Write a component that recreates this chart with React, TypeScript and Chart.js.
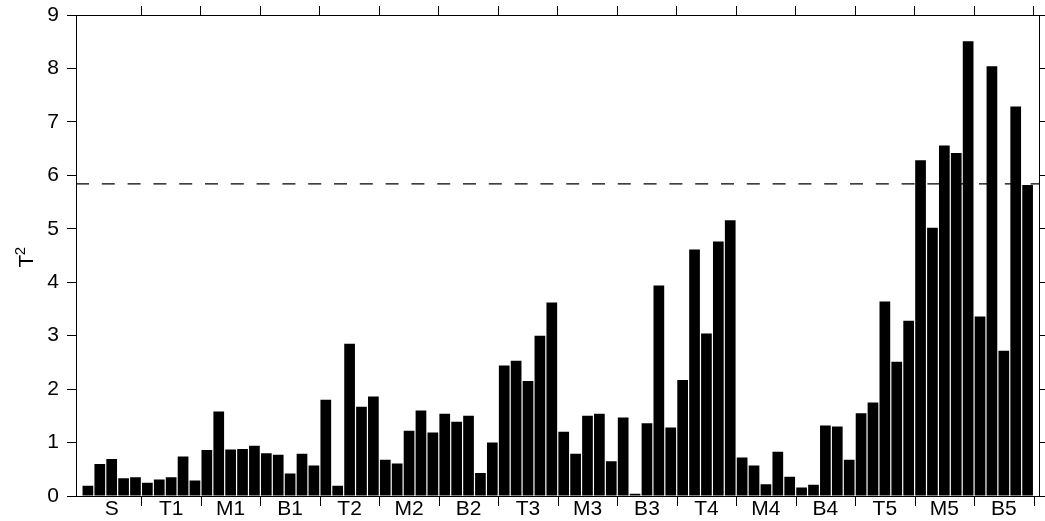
import { useEffect, useRef } from "react";
import { Chart, registerables } from "chart.js";

Chart.register(...registerables);

// Sample groups along the x axis, five samples in each
const groupLabels = ["S", "T1", "M1", "B1", "T2", "M2", "B2", "T3", "M3", "B3", "T4", "M4", "B4", "T5", "M5", "B5"];
const samplesPerGroup = 5;

// Hotelling T² statistic for each sample, in group order
const t2S = [0.19, 0.6, 0.69, 0.33, 0.35];
const t2T1 = [0.25, 0.31, 0.35, 0.74, 0.29];
const t2M1 = [0.86, 1.58, 0.87, 0.88, 0.94];
const t2B1 = [0.8, 0.77, 0.42, 0.79, 0.57];
const t2T2 = [1.8, 0.19, 2.85, 1.67, 1.86];
const t2M2 = [0.68, 0.61, 1.22, 1.6, 1.19];
const t2B2 = [1.54, 1.39, 1.5, 0.43, 1.0];
const t2T3 = [2.44, 2.53, 2.15, 3.0, 3.62];
const t2M3 = [1.2, 0.79, 1.5, 1.54, 0.65];
const t2B3 = [1.47, 0.04, 1.36, 3.94, 1.28];
const t2T4 = [2.17, 4.61, 3.04, 4.76, 5.16];
const t2M4 = [0.72, 0.57, 0.22, 0.83, 0.36];
const t2B4 = [0.16, 0.21, 1.32, 1.3, 0.68];
const t2T5 = [1.55, 1.75, 3.64, 2.51, 3.28];
const t2M5 = [6.28, 5.02, 6.56, 6.42, 8.51];
const t2B5 = [3.36, 8.04, 2.72, 7.29, 5.82];

// Control limit drawn as a dashed horizontal line
const controlLimit = 5.84;

// Value axis range and tick step
const yMin = 0;
const yMax = 9;
const yStep = 1;

const t2Groups = [t2S, t2T1, t2M1, t2B1, t2T2, t2M2, t2B2, t2T3, t2M3, t2B3, t2T4, t2M4, t2B4, t2T5, t2M5, t2B5];
const t2Values = t2Groups.flat();
const sampleCount = t2Values.length;
const xMin = 0;
const xMax = sampleCount + 1;
const barPoints = t2Values.map((v, i) => ({ x: i + 1, y: v }));
const groupCenters = groupLabels.map((_, g) => g * samplesPerGroup + (samplesPerGroup + 1) / 2);
const groupBounds = groupLabels.map((_, g) => (g + 1) * samplesPerGroup + 0.5);

const FONT_FAMILY = "'Liberation Sans', Arial, Helvetica, sans-serif";
const labelFont = { family: FONT_FAMILY, size: 21 };

// Keep each axis from asking the layout for extra room around its labels
const noLabelPadding = (s: any) => {
  s.paddingTop = 0;
  s.paddingBottom = 0;
  s.paddingLeft = 0;
  s.paddingRight = 0;
};

// Tick marks below the x axis at each group boundary
const groupBoundaryTicks = {
  id: "groupBoundaryTicks",
  afterDraw(chart: any) {
    const { ctx, chartArea, scales } = chart;
    const xs = scales.x;
    ctx.save();
    ctx.strokeStyle = "#000";
    ctx.lineWidth = 1;
    ctx.beginPath();
    for (const b of groupBounds) {
      const px = Math.round(xs.getPixelForValue(b)) + 0.5;
      ctx.moveTo(px, chartArea.bottom);
      ctx.lineTo(px, chartArea.bottom + 10);
    }
    ctx.stroke();
    ctx.restore();
  },
};

// Y axis title "T" with a superscript 2, rotated to read upwards
const yAxisTitle = {
  id: "yAxisTitle",
  afterDraw(chart: any) {
    const { ctx, chartArea } = chart;
    const cy = (chartArea.top + chartArea.bottom) / 2;
    ctx.save();
    ctx.translate(33, cy + 12);
    ctx.rotate(-Math.PI / 2);
    ctx.fillStyle = "#000";
    ctx.textBaseline = "alphabetic";
    ctx.textAlign = "left";
    ctx.font = `21px ${FONT_FAMILY}`;
    ctx.fillText("T", 0, 0);
    const tw = ctx.measureText("T").width;
    ctx.font = `15px ${FONT_FAMILY}`;
    ctx.fillText("2", tw - 0.5, -8);
    ctx.restore();
  },
};

export default function App() {
  const canvasRef = useRef<HTMLCanvasElement | null>(null);

  useEffect(() => {
    const canvas = canvasRef.current;
    if (!canvas) return;
    const chart = new Chart(canvas, {
      type: "bar",
      data: {
        datasets: [
          {
            type: "line",
            data: [
              { x: xMin, y: controlLimit },
              { x: xMax, y: controlLimit },
            ],
            borderColor: "#000",
            borderWidth: 1.2,
            borderDash: [13, 12.8],
            pointRadius: 0,
            fill: false,
            order: 0,
          } as any,
          {
            type: "bar",
            data: barPoints,
            backgroundColor: "#000",
            borderWidth: 0,
            barPercentage: 0.9,
            categoryPercentage: 1,
            order: 1,
          } as any,
        ],
      },
      options: {
        responsive: false,
        animation: false,
        devicePixelRatio: 1,
        layout: { padding: 0 },
        plugins: {
          legend: { display: false },
          tooltip: { enabled: false },
        },
        scales: {
          x: {
            type: "linear",
            position: "bottom",
            offset: false,
            min: xMin,
            max: xMax,
            afterBuildTicks: (s: any) => {
              s.ticks = groupCenters.map((v) => ({ value: v }));
            },
            afterFit: (s: any) => {
              s.height = 25;
              noLabelPadding(s);
            },
            grid: { display: false, drawTicks: false, offset: false },
            border: { display: true, color: "#000", width: 1 },
            ticks: {
              autoSkip: false,
              maxRotation: 0,
              padding: 1,
              color: "#000",
              font: labelFont,
              callback: (_v: any, i: number) => groupLabels[i],
            },
          },
          xTop: {
            type: "linear",
            position: "top",
            offset: false,
            min: xMin,
            max: xMax,
            afterBuildTicks: (s: any) => {
              s.ticks = groupBounds.map((v) => ({ value: v }));
            },
            afterFit: (s: any) => {
              s.height = 15;
              noLabelPadding(s);
            },
            ticks: { display: false },
            grid: { display: true, offset: false, drawOnChartArea: false, drawTicks: true, tickLength: 9, color: "#000" },
            border: { display: true, color: "#000", width: 1 },
          },
          y: {
            type: "linear",
            position: "left",
            min: yMin,
            max: yMax,
            afterFit: (s: any) => {
              s.width = 76;
              noLabelPadding(s);
            },
            ticks: { stepSize: yStep, color: "#000", font: labelFont, padding: 8 },
            grid: { display: true, drawOnChartArea: false, drawTicks: true, tickLength: 9, color: "#000" },
            border: { display: true, color: "#000", width: 1 },
          },
          y2: {
            type: "linear",
            position: "right",
            min: yMin,
            max: yMax,
            afterFit: (s: any) => {
              s.width = 5.5;
              noLabelPadding(s);
            },
            ticks: { display: false, stepSize: yStep },
            grid: { display: true, drawOnChartArea: false, drawTicks: true, tickLength: 8, color: "#000" },
            border: { display: true, color: "#000", width: 1 },
          },
        },
      },
      plugins: [groupBoundaryTicks, yAxisTitle],
    });
    return () => chart.destroy();
  }, []);

  return (
    <div style={{ position: "fixed", left: 0, top: 0, width: 1045, height: 521, background: "#fff" }}>
      <canvas ref={canvasRef} width={1045} height={521} style={{ display: "block" }} />
    </div>
  );
}
